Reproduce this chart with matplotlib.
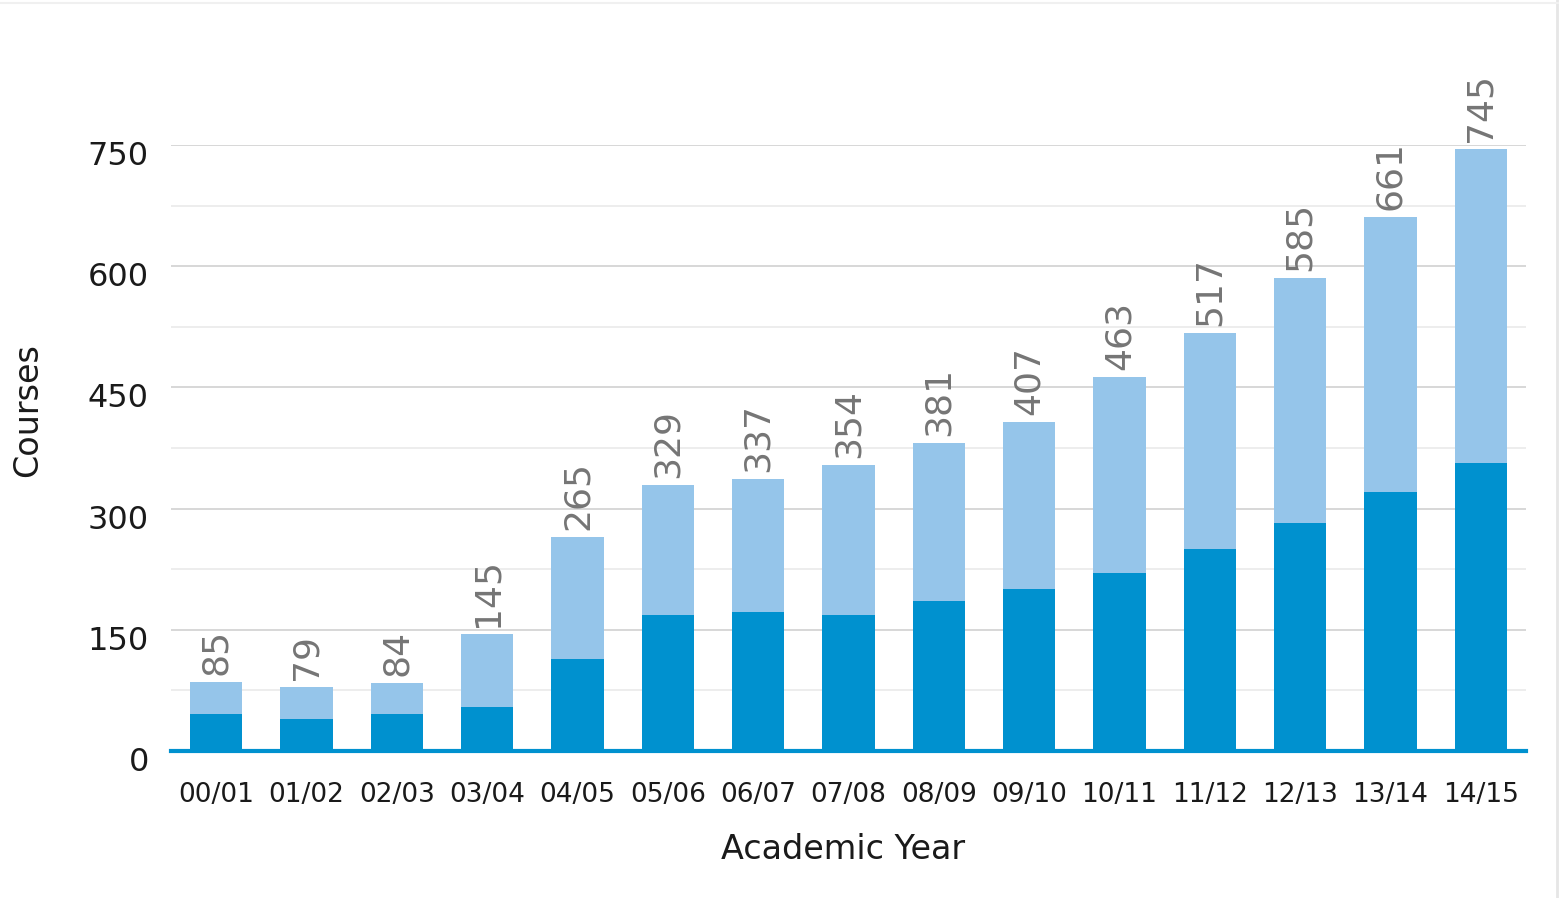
import matplotlib.pyplot as plt
from matplotlib.transforms import ScaledTranslation
from matplotlib.lines import Line2D

# Academic years and course counts.
years = ["00/01", "01/02", "02/03", "03/04", "04/05", "05/06", "06/07", "07/08",
         "08/09", "09/10", "10/11", "11/12", "12/13", "13/14", "14/15"]
totals = [85, 79, 84, 145, 265, 329, 337, 354, 381, 407, 463, 517, 585, 661, 745]
lower = [46, 39, 46, 55, 114, 168, 172, 168, 186, 200, 220, 250, 282, 320, 356]
upper = [t - l for t, l in zip(totals, lower)]

dark_blue = "#0091cf"
light_blue = "#95c5ea"

fig = plt.figure(figsize=(15.59, 8.98), dpi=100)
ax = fig.add_axes([0.1097, 0.1637, 0.8691, 0.6748])

x = range(len(years))
ax.bar(x, lower, width=0.58, color=dark_blue, zorder=3)
ax.bar(x, upper, bottom=lower, width=0.58, color=light_blue, zorder=3)

for xi, t in zip(x, totals):
    ax.annotate(str(t), (xi, t), xytext=(0, 5), textcoords="offset points",
                rotation=90, ha="center", va="bottom", fontsize=26,
                color="#757575", annotation_clip=False)

ax.set_xlim(-0.5, 14.5)
ax.set_ylim(0, 750)
ax.set_yticks([0, 150, 300, 450, 600, 750])
ax.set_yticks([75, 225, 375, 525, 675], minor=True)
ax.grid(axis="y", which="major", color="#d4d4d4", lw=1.3, zorder=0)
ax.grid(axis="y", which="minor", color="#ececec", lw=1.3, zorder=0)

ax.set_xticks(list(x))
ax.set_xticklabels(years, fontsize=19, color="#1a1a1a")
ax.tick_params(axis="y", which="both", length=0, labelsize=23, labelcolor="#1a1a1a", pad=16)
ax.tick_params(axis="x", length=0, pad=22)

# y tick labels sit slightly below their gridlines in the original
for lab in ax.get_yticklabels():
    lab.set_transform(lab.get_transform() + ScaledTranslation(0, -0.08, fig.dpi_scale_trans))

for side in ["top", "right", "left"]:
    ax.spines[side].set_visible(False)
ax.spines["bottom"].set_color(dark_blue)
ax.spines["bottom"].set_linewidth(3)
ax.spines["bottom"].set_zorder(4)

ax.set_xlabel("Academic Year", fontsize=24, color="#1a1a1a", va="center")
ax.xaxis.set_label_coords(0.496, -0.162)
ax.set_ylabel("Courses", fontsize=24, color="#1a1a1a", va="center")
ax.yaxis.set_label_coords(-0.1055, 0.563)

# faint frame on the right and top edges
fig.add_artist(Line2D([0.9985, 0.9985], [0, 1], transform=fig.transFigure, color="#e6e6e6", lw=2))
fig.add_artist(Line2D([0, 1], [0.997, 0.997], transform=fig.transFigure, color="#f0f0f0", lw=1.5))

fig.savefig("out.png", dpi=100)
